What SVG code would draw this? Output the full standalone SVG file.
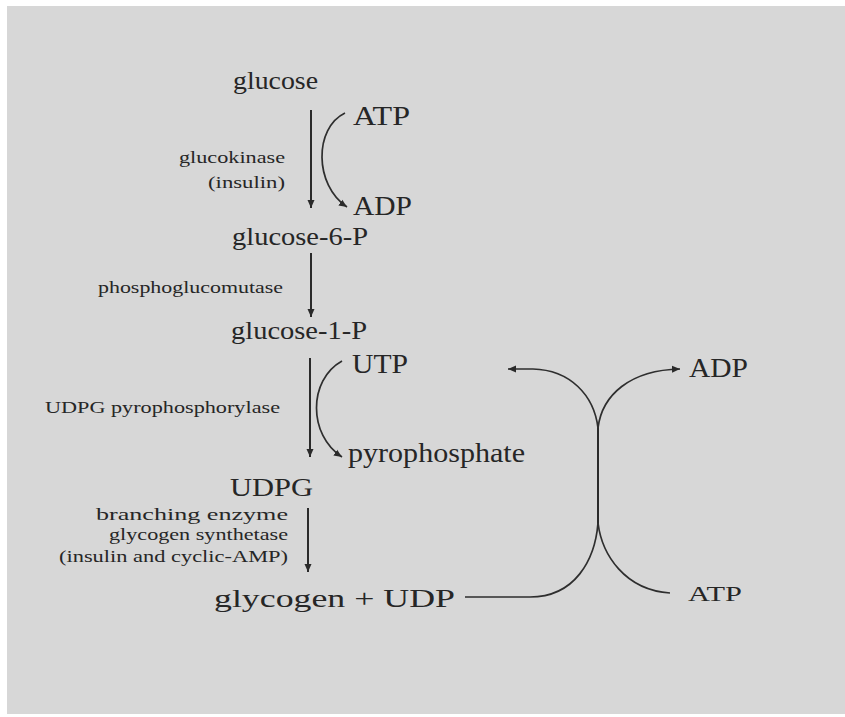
<svg xmlns="http://www.w3.org/2000/svg" width="845" height="717" viewBox="0 0 845 717">
<style>
text { font-family: "Liberation Serif", "Times New Roman", serif; fill: #262626; }
.big { font-size: 26px; }
.mid { font-size: 27px; }
.small { font-size: 17px; }
.main { stroke: #2a2a2a; stroke-width: 2; fill: none; }
.curve { stroke: #2e2e2e; stroke-width: 1.7; fill: none; }
</style>
<defs>
<marker id="ah" viewBox="0 0 8 8" refX="8" refY="4" markerWidth="8" markerHeight="8" markerUnits="userSpaceOnUse" orient="auto">
<path d="M0,0.5 L8,4 L0,7.5 z" fill="#2a2a2a"/>
</marker>
</defs>
<rect x="0" y="0" width="845" height="717" fill="#ffffff"/>
<rect x="7" y="6" width="838" height="708" fill="#d7d7d7"/>

<g id="glucose"><text class="big" x="233" y="89" textLength="85" lengthAdjust="spacingAndGlyphs">glucose</text></g>
<g id="atp1"><text class="mid" x="353" y="125" textLength="57" lengthAdjust="spacingAndGlyphs">ATP</text></g>
<g id="adp1"><text class="mid" x="353" y="215" textLength="59" lengthAdjust="spacingAndGlyphs">ADP</text></g>
<g id="glucokinase">
<text class="small" x="285" y="163" text-anchor="end" textLength="106" lengthAdjust="spacingAndGlyphs">glucokinase</text>
<text class="small" x="285" y="188" text-anchor="end" textLength="77" lengthAdjust="spacingAndGlyphs">(insulin)</text>
</g>
<g id="glucose6p"><text class="big" x="232" y="245" textLength="136" lengthAdjust="spacingAndGlyphs">glucose-6-P</text></g>
<g id="phosphoglucomutase"><text class="small" x="98" y="293" textLength="185" lengthAdjust="spacingAndGlyphs">phosphoglucomutase</text></g>
<g id="glucose1p"><text class="big" x="231" y="339" textLength="136" lengthAdjust="spacingAndGlyphs">glucose-1-P</text></g>
<g id="utp"><text class="mid" x="352" y="373" textLength="56" lengthAdjust="spacingAndGlyphs">UTP</text></g>
<g id="udpgpp"><text class="small" x="45" y="413" textLength="235" lengthAdjust="spacingAndGlyphs">UDPG pyrophosphorylase</text></g>
<g id="pyrophosphate"><text class="mid" x="348" y="462" textLength="177" lengthAdjust="spacingAndGlyphs">pyrophosphate</text></g>
<g id="udpg"><text class="big" x="230" y="496" textLength="83" lengthAdjust="spacingAndGlyphs">UDPG</text></g>
<g id="enzymes">
<text class="small" x="288" y="520" text-anchor="end" textLength="192" lengthAdjust="spacingAndGlyphs">branching enzyme</text>
<text class="small" x="288" y="540" text-anchor="end" textLength="179" lengthAdjust="spacingAndGlyphs">glycogen synthetase</text>
<text class="small" x="288" y="562" text-anchor="end" textLength="229" lengthAdjust="spacingAndGlyphs">(insulin and cyclic-AMP)</text>
</g>
<g id="glycogen"><text class="big" x="214" y="607" textLength="241" lengthAdjust="spacingAndGlyphs">glycogen + UDP</text></g>
<g id="adp2"><text class="mid" x="689" y="377" textLength="59" lengthAdjust="spacingAndGlyphs">ADP</text></g>
<g id="atp2"><text class="small" style="font-size:22px" x="688" y="601" textLength="54" lengthAdjust="spacingAndGlyphs">ATP</text></g>

<g id="connectors">
<line class="main" x1="311" y1="110" x2="311" y2="208" marker-end="url(#ah)"/>
<line class="main" x1="311" y1="253" x2="311" y2="317" marker-end="url(#ah)"/>
<line class="main" x1="310" y1="358" x2="310" y2="457" marker-end="url(#ah)"/>
<line class="main" x1="308" y1="508" x2="308" y2="572" marker-end="url(#ah)"/>
<path class="curve" d="M345,113 C314,128 314,185 347,207" marker-end="url(#ah)"/>
<path class="curve" d="M342,361 C308,380 308,435 342,457" marker-end="url(#ah)"/>
<line class="main" x1="598" y1="427" x2="598" y2="524"/>
<path class="curve" d="M598,428 C594,395 570,370 533,369 L508,369" marker-end="url(#ah)"/>
<path class="curve" d="M598,428 C602,395 630,370 680,369" marker-end="url(#ah)"/>
<path class="curve" d="M598,523 C595,560 575,597 530,597 L465,597"/>
<path class="curve" d="M598,523 C602,555 625,590 670,593"/>
</g>
</svg>
